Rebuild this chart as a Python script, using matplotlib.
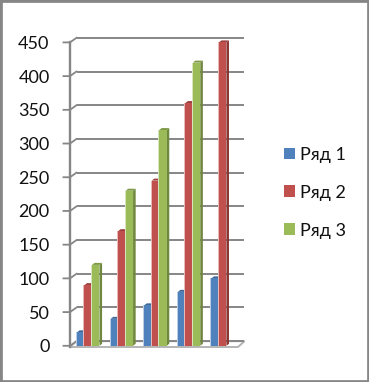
import matplotlib
matplotlib.use("Agg")
import matplotlib.pyplot as plt
from matplotlib.patches import Polygon, Rectangle

categories = [0, 1, 2, 3, 4]
series_names = ["Ряд 1", "Ряд 2", "Ряд 3"]
ryad1 = [20, 40, 60, 80, 100]
ryad2 = [90, 170, 245, 360, 450]
ryad3 = [120, 230, 320, 420, 0]
y_ticks = [0, 50, 100, 150, 200, 250, 300, 350, 400, 450]

W, H = 369, 382
front_colors = ["#4F81BD", "#C0504D", "#9BBB59"]
side_colors = ["#3A5F8C", "#8A3634", "#70883E"]
top_colors = ["#3F6797", "#9C403E", "#7E9A46"]
halo_colors = ["#B9CDE5", "#E6B9B8", "#D7E4BD"]
grid = "#868686"
floor_c = "#B4B4B4"
font = ["Lato", "Open Sans"]

fig = plt.figure(figsize=(W / 100, H / 100), dpi=100, facecolor="white")
fig.add_artist(Rectangle((0, 0), 1, 1, transform=fig.transFigure, fill=False,
                         ec=grid, lw=3.4, clip_on=True))
ax = fig.add_axes([70 / W, (H - 345.8) / H, 168 / W, 303.4 / H])
ax.set_xlim(0, 5)
ax.set_ylim(0, 450)
ax.axis("off")

xpx = 5 / 168          # data units per pixel, x
ypx = 450 / 303.4      # data units per pixel, y
dx, dy = 6.5 * xpx, 4.6 * ypx

# floor
ax.add_patch(Polygon([(0, -1.2 * ypx), (dx, dy), (5 + dx, dy), (5, -1.2 * ypx)], closed=True,
                     fc="white", ec=floor_c, lw=1.4, clip_on=False, zorder=1))

# back wall gridlines, ticks and diagonals
for t in y_ticks:
    ax.plot([dx, 5 + dx], [t + dy, t + dy], color=grid, lw=1.4, clip_on=False, zorder=1,
            solid_capstyle="butt")
    ax.plot([-6.5 * xpx, 0, dx], [t, t, t + dy], color=grid, lw=1.3, clip_on=False, zorder=2)
    ax.text(-20.5 * xpx, t, str(t), ha="right", va="center_baseline", fontsize=13,
            family=font, color="#111111", clip_on=False)
ax.plot([0, 0], [-1 * ypx, 450], color=grid, lw=1.7, clip_on=False, zorder=2)

# bars
bar_w = 0.223
start = 0.208
series = [ryad1, ryad2, ryad3]
sw, sh = 2.6 * xpx, 2.0 * ypx
z = 3
for c in categories:
    for s, vals in enumerate(series):
        v = vals[c]
        if v == 0:
            continue
        x0 = c + start + s * bar_w
        x1 = x0 + bar_w
        ax.bar(x0 - 1.0 * xpx, v, width=1.0 * xpx, align="edge", color=halo_colors[s],
               zorder=z - 1, clip_on=False, linewidth=0)
        ax.add_patch(Polygon([(x1, 0), (x1 + sw, sh), (x1 + sw, v + sh), (x1, v)], closed=True,
                             fc=side_colors[s], ec="none", zorder=z, clip_on=False))
        ax.add_patch(Polygon([(x0, v), (x0 + sw, v + sh), (x1 + sw, v + sh), (x1, v)], closed=True,
                             fc=top_colors[s], ec="none", zorder=z, clip_on=False))
        ax.bar(x0, v, width=bar_w, align="edge", color=front_colors[s], zorder=z + 1,
               clip_on=False, linewidth=0)
        z += 3

# legend
leg_y = [153.5, 191.5, 229]
for name, col, yp in zip(series_names, front_colors, leg_y):
    fig.add_artist(Rectangle((283.5 / W, 1 - (yp + 5.5) / H), 11.5 / W, 11.5 / H,
                             transform=fig.transFigure, fc=col, ec="none"))
    fig.text(300 / W, 1 - yp / H, name, ha="left", va="center_baseline", fontsize=13,
             family=font, color="#111111")

fig.savefig("out.png", dpi=100, facecolor="white")
